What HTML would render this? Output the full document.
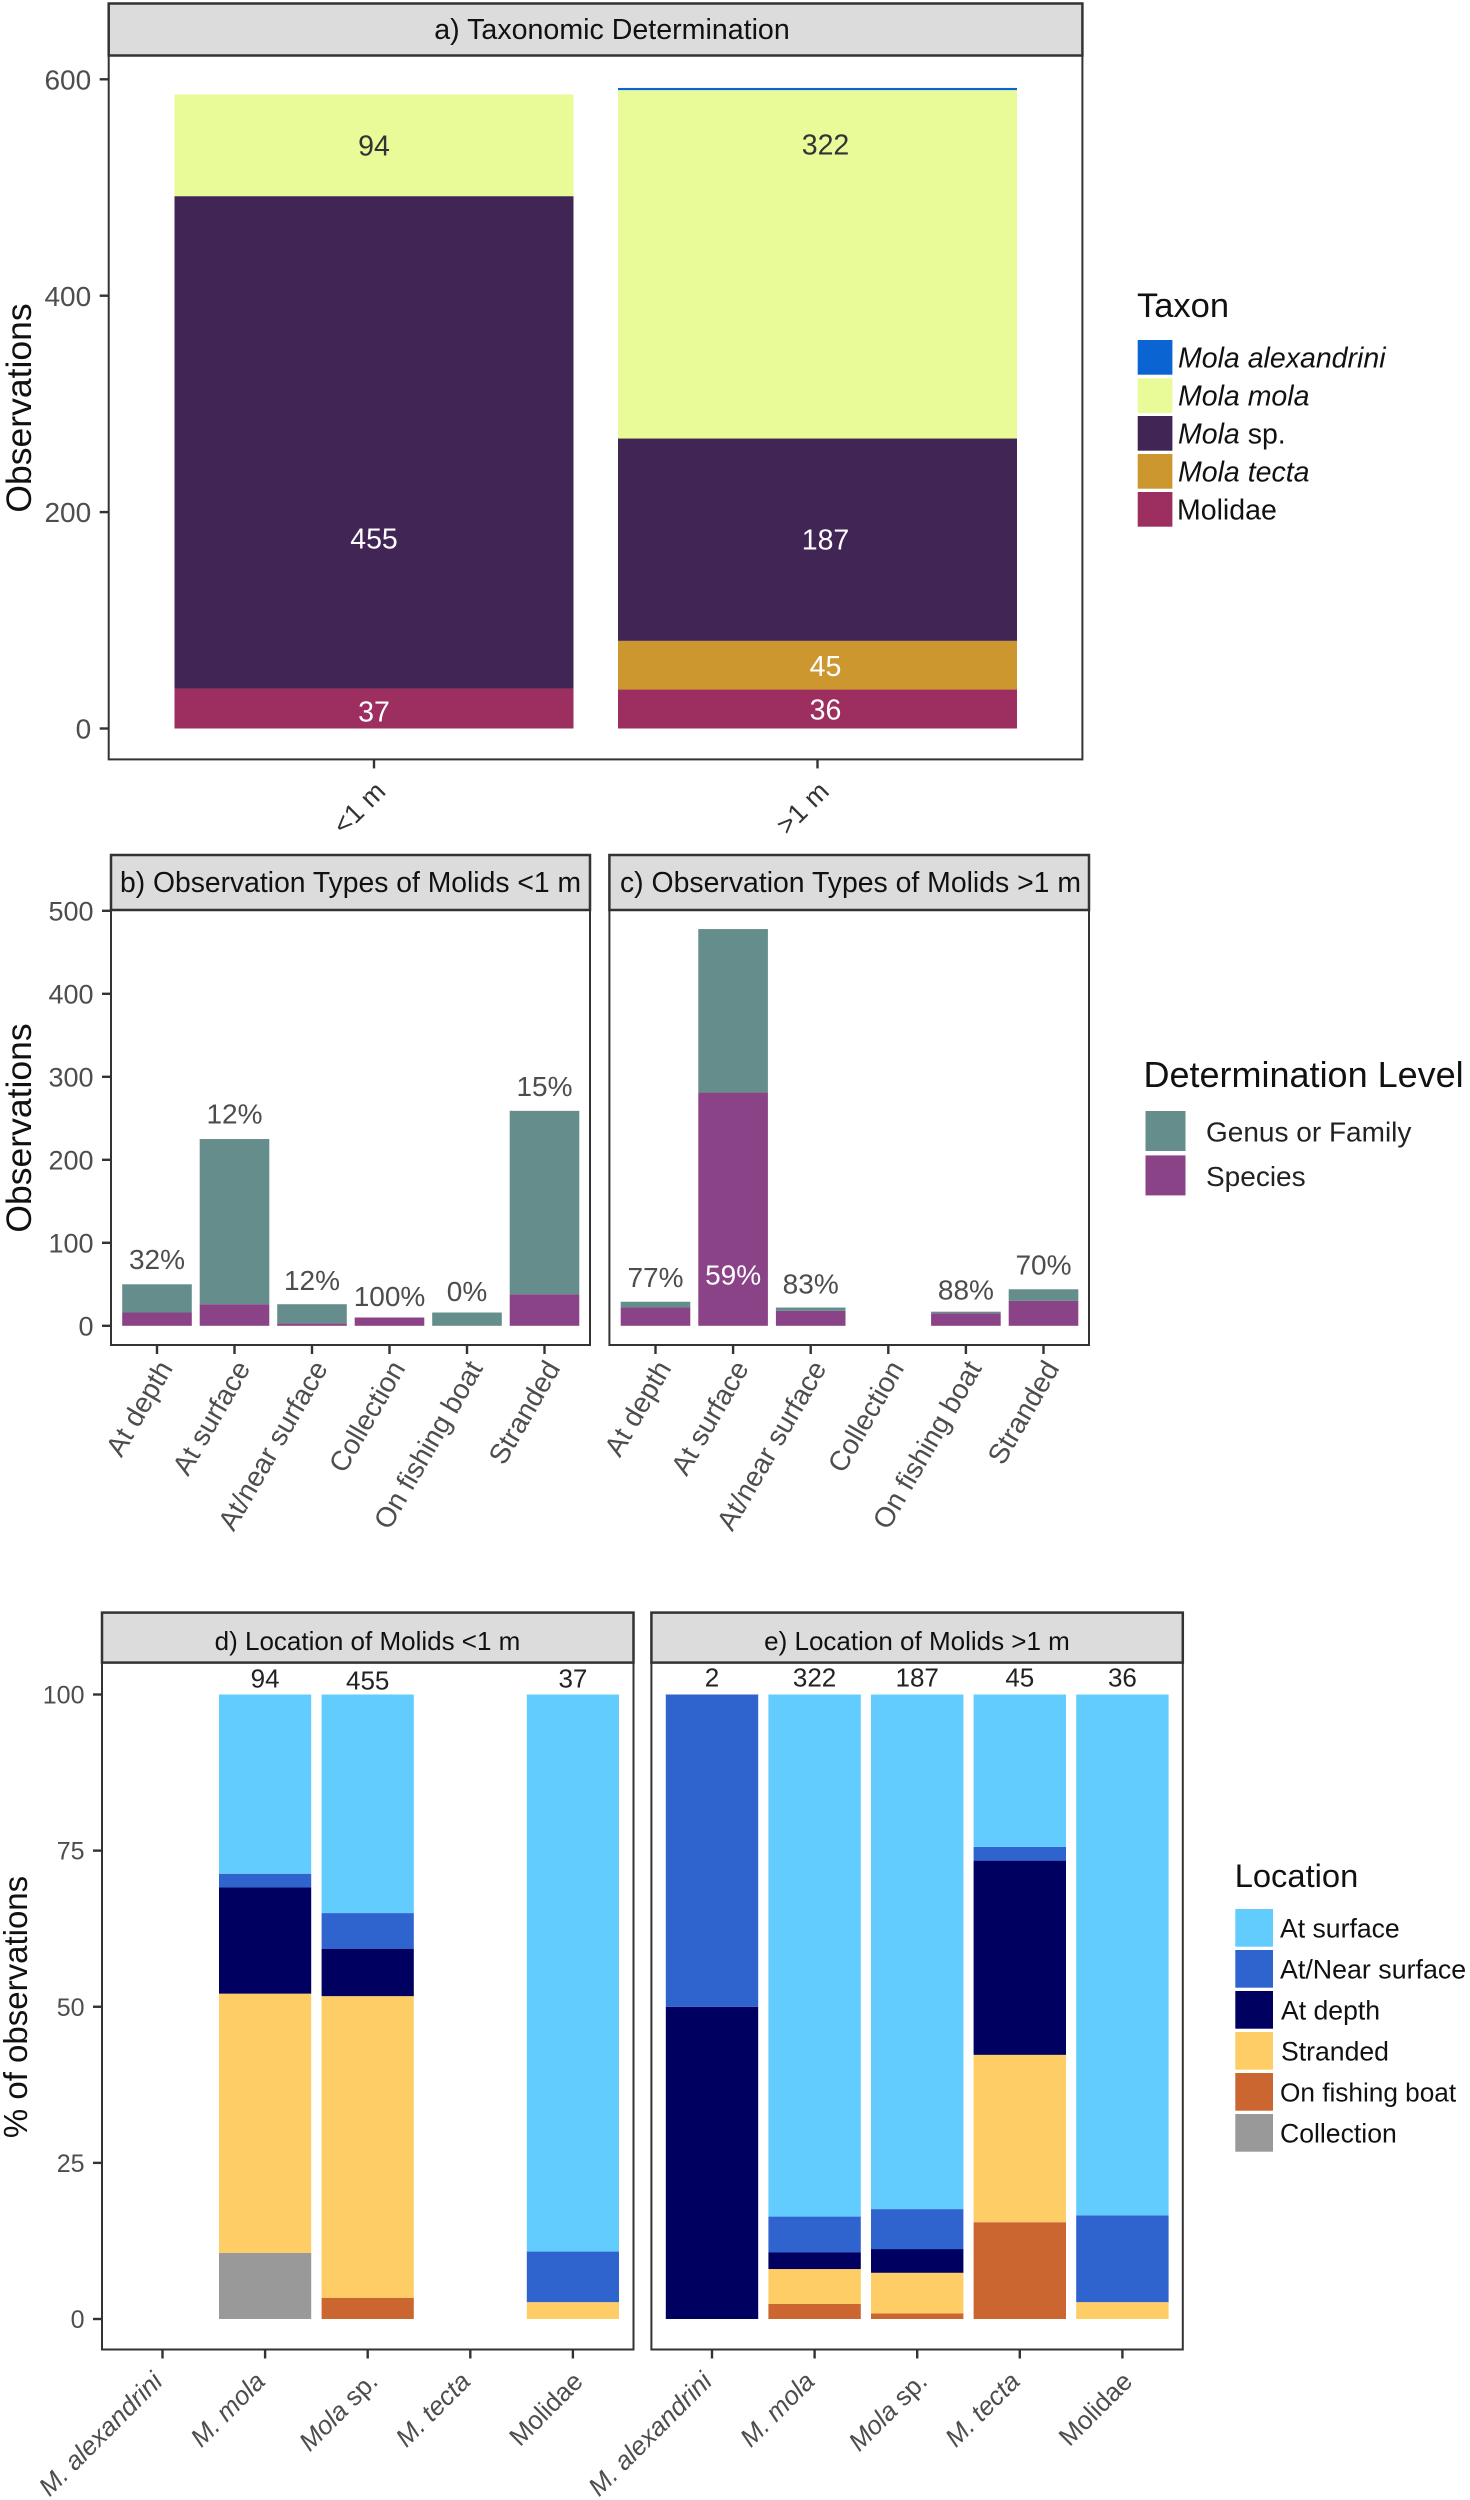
<!DOCTYPE html>
<html lang="en">
<head>
<meta charset="utf-8">
<title>Molid observations by taxon, type and location</title>
<style>
html,body{margin:0;padding:0;background:#fff;}
svg{display:block;}
text{font-family:"Liberation Sans",sans-serif;}
.strip{fill:#dcdcdc;stroke:#333;stroke-width:2.5;}
.frame{fill:#fff;stroke:#333;stroke-width:2;}
.strip-title{font-size:28.3px;fill:#111;text-anchor:middle;}
.axis-title{fill:#111;text-anchor:middle;}
.legend-title{fill:#111;}
.legend-label{fill:#111;}
</style>
</head>
<body>
<svg id="figure" xmlns="http://www.w3.org/2000/svg" width="1470" height="2500" viewBox="0 0 1470 2500">
  <rect x="0" y="0" width="1470" height="2500" fill="#fff"/>

  <!-- Panel a -->
  <rect class="frame" x="108.7" y="55" width="973.7" height="704.4"/>
  <rect class="strip" x="108.7" y="3.5" width="973.7" height="52"/>
  <text class="strip-title" x="612" y="39" style="font-size:28.6px">a) Taxonomic Determination</text>
  <text class="axis-title" transform="translate(31 408) rotate(-90)" style="font-size:35.5px">Observations</text>
  <g id="panel-a"></g>

  <!-- Legend a -->
  <g>
    <text class="legend-title" x="1137" y="317" style="font-size:34.5px">Taxon</text>
    <rect x="1137.7" y="340" width="34.7" height="34.7" fill="#0a64d2"/>
    <rect x="1137.7" y="378.3" width="34.7" height="34.7" fill="#e9fa98"/>
    <rect x="1137.7" y="416" width="34.7" height="34.7" fill="#412554"/>
    <rect x="1137.7" y="454" width="34.7" height="34.7" fill="#cd9730"/>
    <rect x="1137.7" y="492" width="34.7" height="34.7" fill="#9c2f60"/>
    <text class="legend-label" x="1178" y="367.3" style="font-size:28.5px;font-style:italic">Mola alexandrini</text>
    <text class="legend-label" x="1178" y="405.3" style="font-size:28.5px;font-style:italic">Mola mola</text>
    <text class="legend-label" x="1178" y="443.3" style="font-size:28.5px"><tspan style="font-style:italic">Mola</tspan> sp.</text>
    <text class="legend-label" x="1178" y="481.3" style="font-size:28.5px;font-style:italic">Mola tecta</text>
    <text class="legend-label" x="1177" y="519.3" style="font-size:28.5px">Molidae</text>
  </g>

  <!-- Panel b -->
  <rect class="frame" x="111" y="910" width="479" height="435"/>
  <rect class="strip" x="111" y="855" width="479" height="55"/>
  <text class="strip-title" x="350.5" y="892">b) Observation Types of Molids &lt;1 m</text>
  <text class="axis-title" transform="translate(31 1128) rotate(-90)" style="font-size:35.5px">Observations</text>
  <g id="panel-b"></g>

  <!-- Panel c -->
  <rect class="frame" x="609.4" y="910" width="479.6" height="435"/>
  <rect class="strip" x="609.4" y="855" width="479.6" height="55"/>
  <text class="strip-title" x="850.5" y="892" style="font-size:28.4px">c) Observation Types of Molids &gt;1 m</text>
  <g id="panel-c"></g>

  <!-- Legend b/c -->
  <g>
    <text class="legend-title" x="1143.5" y="1087" style="font-size:36px">Determination Level</text>
    <rect x="1145.5" y="1111" width="40" height="40" fill="#658d8b"/>
    <rect x="1145.5" y="1155.4" width="40" height="40" fill="#8b4387"/>
    <text class="legend-label" x="1206" y="1141.5" style="font-size:28px;fill:#222">Genus or Family</text>
    <text class="legend-label" x="1206" y="1186" style="font-size:28px;fill:#222">Species</text>
  </g>

  <!-- Panel d -->
  <rect class="frame" x="102" y="1662" width="531.5" height="687.5"/>
  <rect class="strip" x="102" y="1612.6" width="531.5" height="50"/>
  <text class="strip-title" x="367.5" y="1650" style="font-size:26px">d) Location of Molids &lt;1 m</text>
  <text class="axis-title" transform="translate(27 2007) rotate(-90)" style="font-size:33px">% of observations</text>
  <g id="panel-d"></g>

  <!-- Panel e -->
  <rect class="frame" x="651.4" y="1662" width="531.4" height="687.5"/>
  <rect class="strip" x="651.4" y="1612.6" width="531.4" height="50"/>
  <text class="strip-title" x="917" y="1650" style="font-size:26px">e) Location of Molids &gt;1 m</text>
  <g id="panel-e"></g>

  <!-- Legend d/e -->
  <g>
    <text class="legend-title" x="1234.7" y="1887" style="font-size:32.7px">Location</text>
    <rect x="1235.3" y="1909" width="37.7" height="37.7" fill="#62ccff"/>
    <rect x="1235.3" y="1950" width="37.7" height="37.7" fill="#2f64cf"/>
    <rect x="1235.3" y="1991" width="37.7" height="37.7" fill="#000060"/>
    <rect x="1235.3" y="2032" width="37.7" height="37.7" fill="#fecd66"/>
    <rect x="1235.3" y="2073" width="37.7" height="37.7" fill="#cc6630"/>
    <rect x="1235.3" y="2114" width="37.7" height="37.7" fill="#999999"/>
    <text class="legend-label" x="1280" y="1937.3" style="font-size:26.6px">At surface</text>
    <text class="legend-label" x="1280" y="1978.3" style="font-size:26.8px">At/Near surface</text>
    <text class="legend-label" x="1281" y="2019.3" style="font-size:26.6px">At depth</text>
    <text class="legend-label" x="1281" y="2060.3" style="font-size:26.6px">Stranded</text>
    <text class="legend-label" x="1280" y="2101.3" style="font-size:26.2px">On fishing boat</text>
    <text class="legend-label" x="1280" y="2142.3" style="font-size:26.6px">Collection</text>
  </g>
</svg>

<script>
// ---- Panel a: taxonomic determination ----
const aCategories = ['<1 m', '>1 m'];
const aYTicks = [0, 200, 400, 600];
const aAlexandrini = [0, 2];
const aMolaMola = [94, 322];
const aMolaSp = [455, 187];
const aMolaTecta = [0, 45];
const aMolidae = [37, 36];
// heights (in observations) at which the printed counts sit
const aLabelHeightMola = [539, 540];
const aLabelHeightSp = [176, 175];
const aLabelHeightTecta = [0, 58];
const aLabelHeightMolidae = [16, 18];

// ---- Panels b, c: observation types ----
const typeCategories = ['At depth', 'At surface', 'At/near surface', 'Collection', 'On fishing boat', 'Stranded'];
const typeYTicks = [0, 100, 200, 300, 400, 500];
const bGenus = [34, 199, 23, 0, 16, 221];
const bSpecies = [16, 26, 3, 10, 0, 38];
const bPercent = ['32%', '12%', '12%', '100%', '0%', '15%'];
const bLabelHeight = [80.5, 256, 55, 36, 42, 289];
const cGenus = [7, 197, 4, 0, 2, 14];
const cSpecies = [22, 281, 18, 0, 15, 30];
const cPercent = ['77%', '59%', '83%', '', '88%', '70%'];
const cLabelHeight = [59, 62, 51, 0, 44, 74];

// ---- Panels d, e: location ----
const locCategories = ['M. alexandrini', 'M. mola', 'Mola sp.', 'M. tecta', 'Molidae'];
const locYTicks = [0, 25, 50, 75, 100];
const dCounts = ['', '94', '455', '', '37'];
const dCountHeight = [102.6, 102.6, 102.3, 102.6, 102.6];
const dSurface = [0, 28.7, 35, 0, 89.2];
const dNear = [0, 2.2, 5.7, 0, 8.1];
const dDepth = [0, 17, 7.6, 0, 0];
const dStranded = [0, 41.5, 48.3, 0, 2.7];
const dBoat = [0, 0, 3.4, 0, 0];
const dCollection = [0, 10.6, 0, 0, 0];
const eCounts = ['2', '322', '187', '45', '36'];
const eCountHeight = [102.8, 102.8, 102.8, 102.8, 102.8];
const eSurface = [0, 83.6, 82.4, 24.4, 83.4];
const eNear = [50, 5.7, 6.4, 2.2, 13.9];
const eDepth = [50, 2.7, 3.8, 31.1, 0];
const eStranded = [0, 5.6, 6.5, 26.8, 2.7];
const eBoat = [0, 2.4, 0.9, 15.5, 0];
const eCollection = [0, 0, 0, 0, 0];

const SVG_NS = 'http://www.w3.org/2000/svg';

function yScale(panel, value) { return panel.zeroY - value * panel.unitPx; }
function xScale(panel, index) { return panel.firstX + index * panel.pitch; }

function makeRect(parent, x, y, w, h, fill) {
  const el = document.createElementNS(SVG_NS, 'rect');
  el.setAttribute('x', x);
  el.setAttribute('y', y);
  el.setAttribute('width', w);
  el.setAttribute('height', h);
  el.setAttribute('fill', fill);
  parent.appendChild(el);
  return el;
}
function makeText(parent, x, y, str, size, fill, anchor) {
  const el = document.createElementNS(SVG_NS, 'text');
  el.setAttribute('x', x);
  el.setAttribute('y', y);
  el.setAttribute('font-size', size);
  el.setAttribute('fill', fill);
  el.setAttribute('text-anchor', anchor);
  el.textContent = str;
  parent.appendChild(el);
  return el;
}

function drawYAxis(g, panel, ticks, size) {
  ticks.forEach(function (t) {
    const y = yScale(panel, t);
    const mark = makeRect(g, panel.left - 9, y - 1.2, 9, 2.4, '#333');
    
    
    if (size) {
      const lab = makeText(g, panel.left - 17.5, y + size * 0.36, String(t), size, '#4d4d4d', 'end');
      
      
    }
  });
}

function drawXTicks(g, panel, categories) {
  categories.forEach(function (c, i) {
    const mark = makeRect(g, xScale(panel, i) - 1.2, panel.bottom, 2.4, 9, '#333');
    
    
  });
}

function drawXLabels(g, panel, categories, angle, size, dx, y, color) {
  categories.forEach(function (c, i) {
    // the non-abbreviated taxon labels sit further right of their tick in the figure
    const extra = (c === 'Mola sp.' || c === 'Molidae') ? 10 : 0;
    const x = xScale(panel, i) + dx + extra;
    const lab = makeText(g, 0, 0, '', size, color, 'end');
    lab.setAttribute('transform', 'translate(' + x + ' ' + y + ') rotate(' + (-angle) + ')');
    
    
    if (c === 'Mola sp.') {
      const it = document.createElementNS(SVG_NS, 'tspan');
      it.setAttribute('font-style', 'italic');
      it.textContent = 'Mola';
      lab.appendChild(it);
      lab.appendChild(document.createTextNode(' sp.'));
    } else {
      if (c.indexOf('M.') === 0) { lab.setAttribute('font-style', 'italic'); }
      lab.textContent = c;
    }
  });
}

// series listed from the bottom of the stack to the top
function drawStack(g, panel, seriesList, categories) {
  categories.forEach(function (c, i) {
    let base = 0;
    seriesList.forEach(function (s) {
      const v = s.values[i];
      if (v > 0) {
        const top = yScale(panel, base + v);
        const bar = makeRect(g, xScale(panel, i) - panel.barW / 2, top, panel.barW, yScale(panel, base) - top, s.color);
        
        
      }
      base += v;
    });
  });
}

function drawValueLabels(g, panel, values, heights, size, color, nudge) {
  values.forEach(function (v, i) {
    if (v === '' || v === 0) { return; }
    const fill = typeof color === 'function' ? color(i) : color;
    const lab = makeText(g, xScale(panel, i) + nudge(i), yScale(panel, heights[i]) + size * 0.36, String(v), size, fill, 'middle');
    
    
  });
}

const noNudge = function () { return 0; };

// ----- panel a -----
const panelA = { left: 108.7, bottom: 759.4, zeroY: 728.5, unitPx: 1.082, firstX: 374, pitch: 443.5, barW: 399 };
const gA = document.getElementById('panel-a');
drawStack(gA, panelA, [
  { values: aMolidae, color: '#9c2f60' },
  { values: aMolaTecta, color: '#cd9730' },
  { values: aMolaSp, color: '#412554' },
  { values: aMolaMola, color: '#e9fa98' },
  { values: aAlexandrini, color: '#0a64d2' }
], aCategories);
drawYAxis(gA, panelA, aYTicks, 28);
drawXTicks(gA, panelA, aCategories);
drawXLabels(gA, panelA, aCategories, 45, 27, 13, 793, '#333');
const aNudge = function (i) { return i === 1 ? 8 : 0; };
drawValueLabels(gA, panelA, aMolaMola, aLabelHeightMola, 28.5, '#333', aNudge);
drawValueLabels(gA, panelA, aMolaSp, aLabelHeightSp, 28.5, '#fff', aNudge);
drawValueLabels(gA, panelA, aMolaTecta, aLabelHeightTecta, 28.5, '#fff', aNudge);
drawValueLabels(gA, panelA, aMolidae, aLabelHeightMolidae, 28.5, '#fff', aNudge);

// ----- panel b -----
const panelB = { left: 111, bottom: 1345, zeroY: 1325.8, unitPx: 0.83, firstX: 157, pitch: 77.5, barW: 69.6 };
const gB = document.getElementById('panel-b');
drawStack(gB, panelB, [
  { values: bSpecies, color: '#8b4387' },
  { values: bGenus, color: '#658d8b' }
], typeCategories);
drawYAxis(gB, panelB, typeYTicks, 27);
drawXTicks(gB, panelB, typeCategories);
drawXLabels(gB, panelB, typeCategories, 60, 28, 16.5, 1368, '#4d4d4d');
drawValueLabels(gB, panelB, bPercent, bLabelHeight, 28, '#4d4d4d', noNudge);

// ----- panel c -----
const panelC = { left: 609.4, bottom: 1345, zeroY: 1325.8, unitPx: 0.83, firstX: 655.5, pitch: 77.6, barW: 69.6 };
const gC = document.getElementById('panel-c');
drawStack(gC, panelC, [
  { values: cSpecies, color: '#8b4387' },
  { values: cGenus, color: '#658d8b' }
], typeCategories);
drawYAxis(gC, panelC, [], 0);
drawXTicks(gC, panelC, typeCategories);
drawXLabels(gC, panelC, typeCategories, 60, 28, 16.5, 1368, '#4d4d4d');
drawValueLabels(gC, panelC, cPercent, cLabelHeight, 28, function (i) { return i === 1 ? '#fff' : '#4d4d4d'; }, noNudge);

// ----- panel d -----
const panelD = { left: 102, bottom: 2349.5, zeroY: 2319, unitPx: 6.245, firstX: 162.5, pitch: 102.6, barW: 92.2 };
const gD = document.getElementById('panel-d');
drawStack(gD, panelD, [
  { values: dCollection, color: '#999999' },
  { values: dBoat, color: '#cc6630' },
  { values: dStranded, color: '#fecd66' },
  { values: dDepth, color: '#000060' },
  { values: dNear, color: '#2f64cf' },
  { values: dSurface, color: '#62ccff' }
], locCategories);
drawYAxis(gD, panelD, locYTicks, 25);
drawXTicks(gD, panelD, locCategories);
drawXLabels(gD, panelD, locCategories, 45, 26, 1.5, 2383, '#4d4d4d');
drawValueLabels(gD, panelD, dCounts, dCountHeight, 26, '#222', noNudge);

// ----- panel e -----
const panelE = { left: 651.4, bottom: 2349.5, zeroY: 2319, unitPx: 6.245, firstX: 712, pitch: 102.6, barW: 92.4 };
const gE = document.getElementById('panel-e');
drawStack(gE, panelE, [
  { values: eCollection, color: '#999999' },
  { values: eBoat, color: '#cc6630' },
  { values: eStranded, color: '#fecd66' },
  { values: eDepth, color: '#000060' },
  { values: eNear, color: '#2f64cf' },
  { values: eSurface, color: '#62ccff' }
], locCategories);
drawYAxis(gE, panelE, [], 0);
drawXTicks(gE, panelE, locCategories);
drawXLabels(gE, panelE, locCategories, 45, 26, 1.5, 2383, '#4d4d4d');
drawValueLabels(gE, panelE, eCounts, eCountHeight, 26, '#222', noNudge);
</script>
</body>
</html>
